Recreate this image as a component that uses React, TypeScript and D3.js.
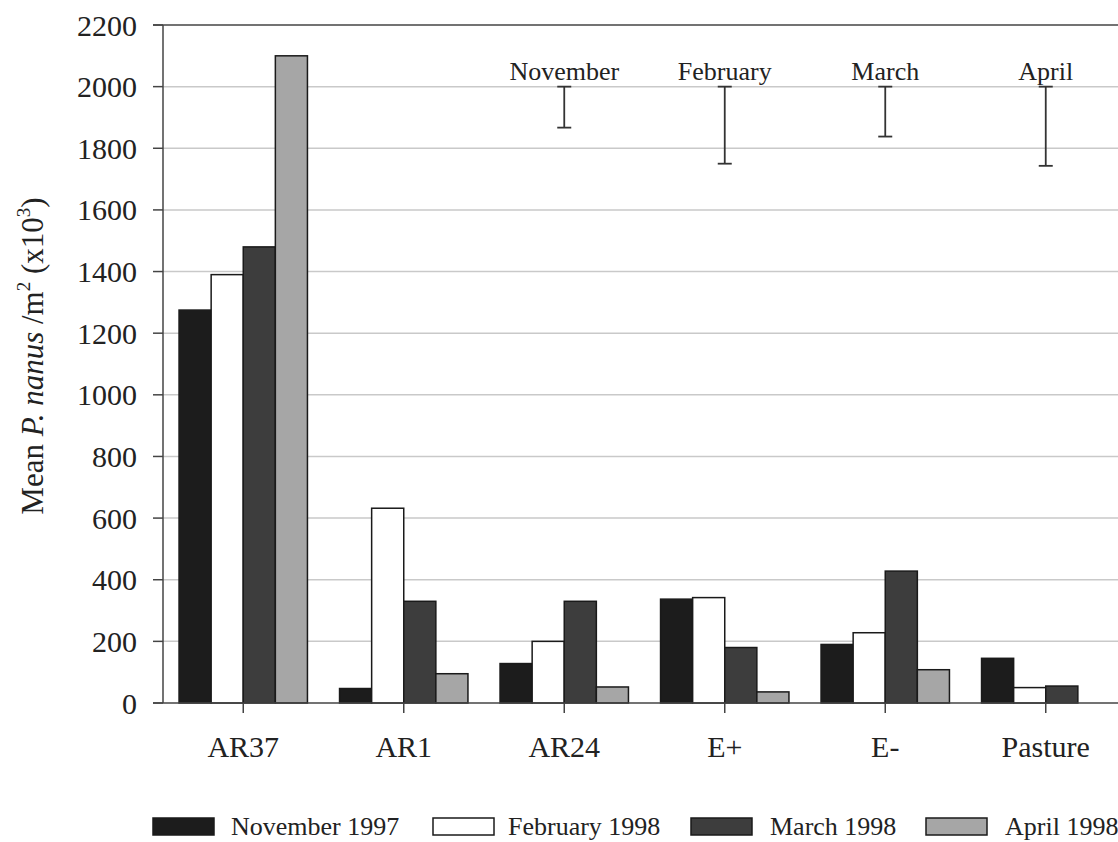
import React from "react";
import * as d3 from "d3";

const categories = ["AR37", "AR1", "AR24", "E+", "E-", "Pasture"];
const seriesNames = ["November 1997", "February 1998", "March 1998", "April 1998"];
const november1997 = [1275, 47, 128, 337, 190, 145];
const february1998 = [1390, 632, 200, 342, 228, 50];
const march1998 = [1480, 330, 330, 180, 428, 55];
const april1998 = [2100, 95, 52, 36, 108, 0];
const yTicks = [0, 200, 400, 600, 800, 1000, 1200, 1400, 1600, 1800, 2000, 2200];
const errorLabels = ["November", "February", "March", "April"];
const errorCategories = ["AR24", "E+", "E-", "Pasture"];
const errorTop = [2000, 2000, 2000, 2000];
const errorBottom = [1867, 1750, 1838, 1743];

const seriesValues = [november1997, february1998, march1998, april1998];
const fills = ["#1c1c1c", "#ffffff", "#3d3d3d", "#a6a6a6"];

const W = 1118;
const H = 842;
const FONT = "'Liberation Serif', 'Times New Roman', serif";

export default function App() {
  const x0 = d3.scaleBand<string>().domain(categories).range([163, 1126]).paddingInner(0.2).paddingOuter(0.1);
  const x1 = d3.scaleBand<string>().domain(seriesNames).range([0, x0.bandwidth()]).padding(0);
  const y = d3.scaleLinear().domain([0, 2200]).range([703, 25]);
  const axisX = 163;
  const legendPos = [
    { sx: 153, tx: 231 },
    { sx: 433, tx: 508 },
    { sx: 691, tx: 770 },
    { sx: 926, tx: 1005 },
  ];

  return (
    <svg width={W} height={H} style={{ position: "absolute", left: 0, top: 0, background: "#fff" }} fontFamily={FONT}>
      <rect x={0} y={0} width={W} height={H} fill="#fff" />
      {/* gridlines */}
      {yTicks.filter((t) => t > 0 && t < 2200).map((t) => (
        <line key={"g" + t} x1={axisX} x2={W} y1={y(t)} y2={y(t)} stroke="#c9c9c9" strokeWidth={1.5} />
      ))}
      {/* top frame */}
      <line x1={153} x2={W} y1={y(2200)} y2={y(2200)} stroke="#444" strokeWidth={1.5} />
      {/* bars */}
      {categories.map((c, ci) => (
        <g key={c} transform={`translate(${x0(c)},0)`}>
          {seriesNames.map((s, si) => {
            const v = seriesValues[si][ci];
            if (v <= 0) return null;
            return (
              <rect
                key={s}
                x={x1(s)}
                y={y(v)}
                width={x1.bandwidth()}
                height={y(0) - y(v)}
                fill={fills[si]}
                stroke="#1a1a1a"
                strokeWidth={1.5}
              />
            );
          })}
        </g>
      ))}
      {/* y axis */}
      <line x1={axisX} x2={axisX} y1={y(2200)} y2={y(0)} stroke="#444" strokeWidth={1.5} />
      {yTicks.map((t) => (
        <g key={"t" + t}>
          <line x1={153} x2={axisX} y1={y(t)} y2={y(t)} stroke="#444" strokeWidth={1.5} />
          <text x={137} y={y(t)} dy="0.35em" textAnchor="end" fontSize={30} fill="#222">
            {t}
          </text>
        </g>
      ))}
      {/* x axis */}
      <line x1={153} x2={W} y1={y(0)} y2={y(0)} stroke="#444" strokeWidth={1.5} />
      {categories.map((c) => {
        const cx = (x0(c) as number) + x0.bandwidth() / 2;
        return (
          <g key={"c" + c}>
            <line x1={cx} x2={cx} y1={y(0)} y2={y(0) + 10} stroke="#444" strokeWidth={1.5} />
            <text x={cx} y={757} textAnchor="middle" fontSize={30} fill="#222">
              {c}
            </text>
          </g>
        );
      })}
      {/* error bars */}
      {errorCategories.map((c, i) => {
        const cx = (x0(c) as number) + x0.bandwidth() / 2;
        return (
          <g key={"e" + c}>
            <line x1={cx} x2={cx} y1={y(errorTop[i])} y2={y(errorBottom[i])} stroke="#333" strokeWidth={1.8} />
            <line x1={cx - 7} x2={cx + 7} y1={y(errorTop[i])} y2={y(errorTop[i])} stroke="#333" strokeWidth={1.8} />
            <line x1={cx - 7} x2={cx + 7} y1={y(errorBottom[i])} y2={y(errorBottom[i])} stroke="#333" strokeWidth={1.8} />
            <text x={cx} y={y(errorTop[i]) - 7} textAnchor="middle" fontSize={26} fill="#222">
              {errorLabels[i]}
            </text>
          </g>
        );
      })}
      {/* y label */}
      <text transform="translate(43,356) rotate(-90)" textAnchor="middle" fontSize={31} fill="#222">
        Mean <tspan fontStyle="italic">P. nanus</tspan> /m
        <tspan fontSize={19} dy={-13}>2</tspan>
        <tspan dy={13}> (x10</tspan>
        <tspan fontSize={19} dy={-13}>3</tspan>
        <tspan dy={13}>)</tspan>
      </text>
      {/* legend */}
      {seriesNames.map((s, i) => (
        <g key={"l" + s}>
          <rect x={legendPos[i].sx} y={818} width={61} height={17} fill={fills[i]} stroke="#1a1a1a" strokeWidth={1.5} />
          <text x={legendPos[i].tx} y={835} fontSize={26} fill="#222">
            {s}
          </text>
        </g>
      ))}
    </svg>
  );
}
